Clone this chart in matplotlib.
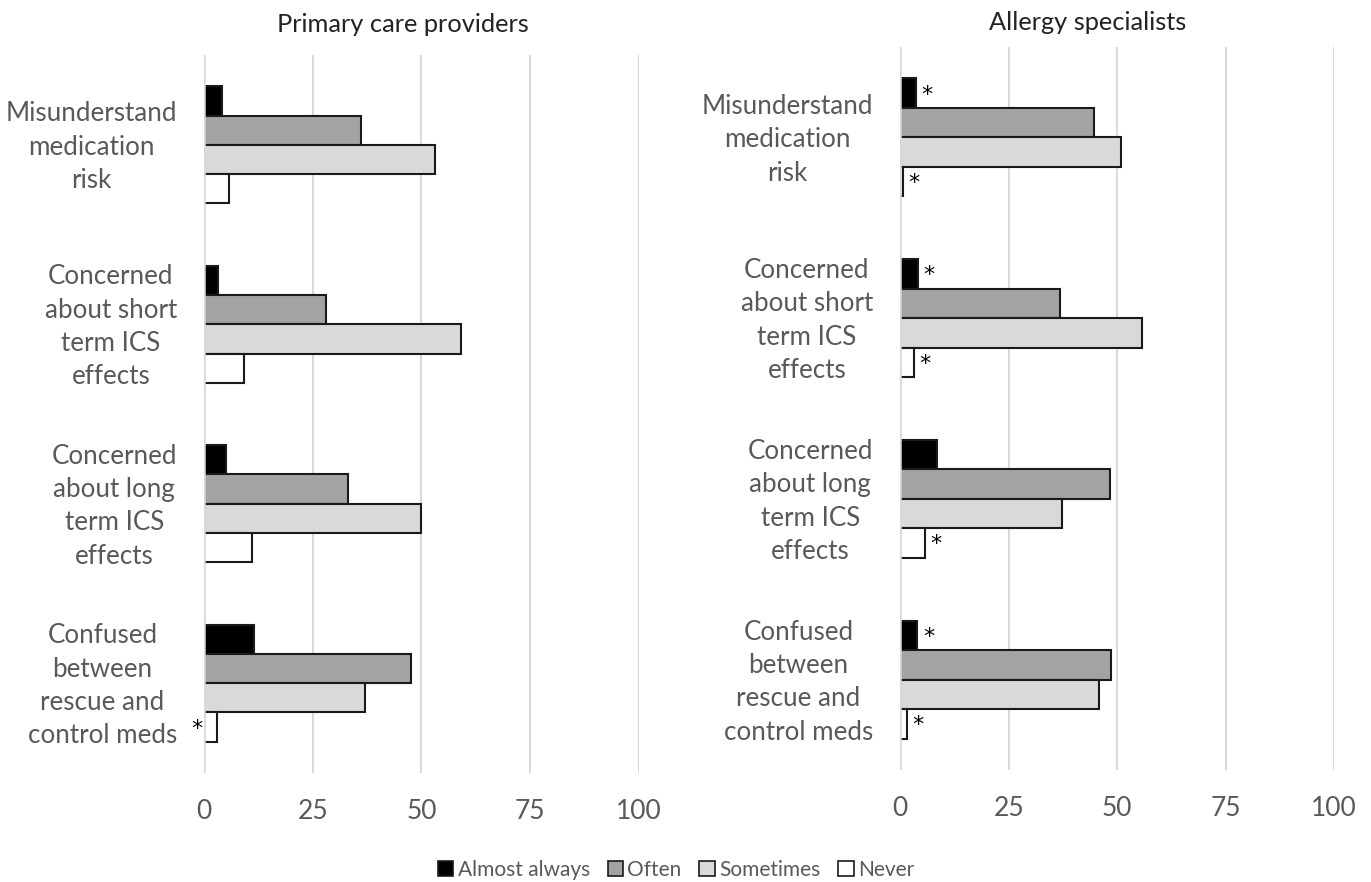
import numpy as np
import matplotlib
matplotlib.use('Agg')
import matplotlib.pyplot as plt
import matplotlib.transforms as mtransforms
from matplotlib.patches import Patch

plt.rcParams['font.family'] = ['Lato', 'DejaVu Sans']

# 数据
categories = ['Misunderstand\nmedication\nrisk',
              'Concerned\nabout short\nterm ICS\neffects',
              'Concerned\nabout long\nterm ICS\neffects',
              'Confused\nbetween\nrescue and\ncontrol meds']
series = ['Almost always', 'Often', 'Sometimes', 'Never']
colors = ['#000000', '#a3a3a3', '#d9d9d9', '#ffffff']

pcp_almost = [4.1, 3.3, 5.1, 11.6]
pcp_often = [36.2, 28.0, 33.2, 47.7]
pcp_sometimes = [53.2, 59.1, 50.0, 37.1]
pcp_never = [5.8, 9.1, 11.0, 2.9]

allergy_almost = [3.7, 4.2, 8.5, 4.0]
allergy_often = [44.6, 36.9, 48.3, 48.5]
allergy_sometimes = [50.8, 55.7, 37.3, 45.9]
allergy_never = [0.6, 3.2, 5.7, 1.5]

# 星号 (类别序号, 系列序号)
pcp_stars = [(3, 3)]
allergy_stars = [(0, 0), (0, 3), (1, 0), (1, 3), (2, 3), (3, 0), (3, 3)]

ticks = [0, 25, 50, 75, 100]

fig = plt.figure(figsize=(13.71, 8.82), dpi=100)
ax1 = fig.add_axes([0.1488, 0.1236, 0.3171, 0.814])
ax2 = fig.add_axes([0.6565, 0.127, 0.3166, 0.8197])

bar_h = 0.163
gray_txt = '#595959'


def draw_panel(ax, data, stars, star_side):
    y = np.arange(len(categories))
    for k, vals in enumerate(data):
        ax.barh(y + (k - 1.5) * bar_h, vals, height=bar_h, color=colors[k],
                edgecolor='#1a1a1a', linewidth=1.5, zorder=3)
    ax.set_xlim(0, 100)
    ax.set_ylim(len(categories) - 0.5, -0.5)
    ax.set_xticks(ticks)
    ax.grid(axis='x', color='#d9d9d9', linewidth=1.5, zorder=0)
    ax.axvline(0, color='#d9d9d9', linewidth=1.8, zorder=4)
    for s in ax.spines.values():
        s.set_visible(False)
    ax.tick_params(axis='x', length=0, labelsize=19, labelcolor=gray_txt, pad=19)
    ax.set_yticks([])
    # 类别标签
    trans = mtransforms.blended_transform_factory(ax.transAxes, ax.transData)
    trans = trans + mtransforms.ScaledTranslation(-27 / 100, -2.5 / 100, fig.dpi_scale_trans)
    for i, lab in enumerate(categories):
        ax.text(0, i, lab, transform=trans, ha='right', va='center', fontsize=18.7,
                color=gray_txt, multialignment='center', linespacing=1.42)
    for ci, si in stars:
        val = data[si][ci]
        yy = ci + (si - 1.5) * bar_h
        if star_side == 'right':
            ax.annotate('*', xy=(val, yy), xytext=(8, -1), textcoords='offset points',
                        ha='center', va='center', fontsize=16, color='black', zorder=5,
                        family='DejaVu Sans', annotation_clip=False)
        else:
            ax.annotate('*', xy=(0, yy), xytext=(-5, -1), textcoords='offset points',
                        ha='center', va='center', fontsize=16, color='black', zorder=5,
                        family='DejaVu Sans', annotation_clip=False)


draw_panel(ax1, [pcp_almost, pcp_often, pcp_sometimes, pcp_never], pcp_stars, 'left')
draw_panel(ax2, [allergy_almost, allergy_often, allergy_sometimes, allergy_never],
           allergy_stars, 'right')

fig.text(403 / 1371, 1 - 25 / 882, 'Primary care providers', ha='center', va='center',
         fontsize=18.3, color='#222222')
fig.text(1088 / 1371, 1 - 22 / 882, 'Allergy specialists', ha='center', va='center',
         fontsize=18.3, color='#222222')

handles = [Patch(facecolor=c, edgecolor='#1a1a1a', linewidth=1.2) for c in colors]
leg = fig.legend(handles, series, loc='center', bbox_to_anchor=(676 / 1371, 1 - 870 / 882),
                 ncol=4, frameon=False, fontsize=15, handlelength=0.75, handleheight=0.75,
                 handletextpad=0.2, columnspacing=0.85)
for t in leg.get_texts():
    t.set_color(gray_txt)

plt.savefig('out.png', dpi=100)
